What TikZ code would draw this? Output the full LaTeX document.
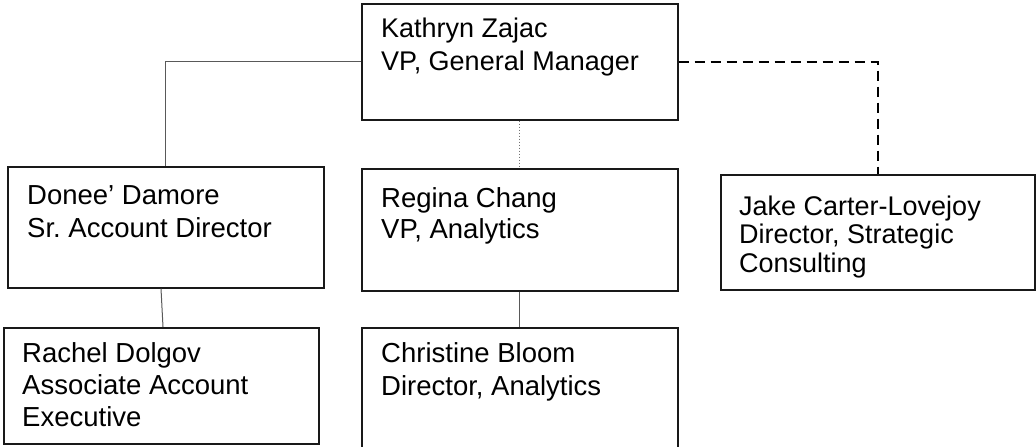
\documentclass[tikz,border=0pt]{standalone}
\usepackage{fontspec}
\setmainfont{Liberation Sans}
\frenchspacing
\begin{document}
\begin{tikzpicture}[x=1pt,y=-1pt,
  box/.style={draw=black!90, line width=1.6pt, anchor=north west, inner sep=0pt},
  lbl/.style={anchor=base west, inner sep=0pt, text=black},
  conn/.style={draw=black!65, line width=1pt},
  dotline/.style={draw=black!55, line width=1pt, dash pattern=on 1.5pt off 1.5pt},
  dashline/.style={draw=black, line width=2pt, dash pattern=on 10pt off 6pt}]
\useasboundingbox (0,0) rectangle (1036,447);
\clip (0,0) rectangle (1036,447);
\fill[white] (0,0) rectangle (1036,447);

% boxes
\node[box, minimum width=316pt, minimum height=116pt] (K)  at (361,3)   {};
\node[box, minimum width=316pt, minimum height=121pt] (D)  at (7,166)   {};
\node[box, minimum width=316pt, minimum height=122pt] (R)  at (361,168) {};
\node[box, minimum width=314pt, minimum height=115pt] (J)  at (720,174) {};
\node[box, minimum width=315pt, minimum height=116pt] (RD) at (3,327)   {};
\node[box, minimum width=316pt, minimum height=124pt] (CB) at (361,327) {};

% names and titles
\node[lbl, font=\fontsize{27}{33}\selectfont] (Kt) at (381,37)
  {\begin{tabular}[t]{@{}l@{}}Kathryn Zajac\\VP, General Manager\end{tabular}};
\node[lbl, font=\fontsize{27.5}{33}\selectfont] (Dt) at (27,204)
  {\begin{tabular}[t]{@{}l@{}}Donee’ Damore\\Sr. Account Director\end{tabular}};
\node[lbl, font=\fontsize{27.5}{31}\selectfont] (Rt) at (381,207)
  {\begin{tabular}[t]{@{}l@{}}Regina Chang\\VP, Analytics\end{tabular}};
\node[lbl, font=\fontsize{27}{28.5}\selectfont] (Jt) at (739,215)
  {\begin{tabular}[t]{@{}l@{}}Jake Carter-Lovejoy\\Director, Strategic\\Consulting\end{tabular}};
\node[lbl, font=\fontsize{27.5}{32}\selectfont] (RDt) at (22,362)
  {\begin{tabular}[t]{@{}l@{}}Rachel Dolgov\\Associate Account\\Executive\end{tabular}};
\node[lbl, font=\fontsize{27.5}{33}\selectfont] (CBt) at (381,362)
  {\begin{tabular}[t]{@{}l@{}}Christine Bloom\\Director, Analytics\end{tabular}};

% reporting lines
\draw[conn] (K.west) -| (D.north);
\draw[dotline] (K.south) -- (R.north);
\draw[dashline] (K.east) -| (J.north);
\draw[conn] ([xshift=154pt]D.south west) -- ([xshift=160pt]RD.north west);
\draw[conn] (R.south) -- (CB.north);
\end{tikzpicture}
\end{document}
